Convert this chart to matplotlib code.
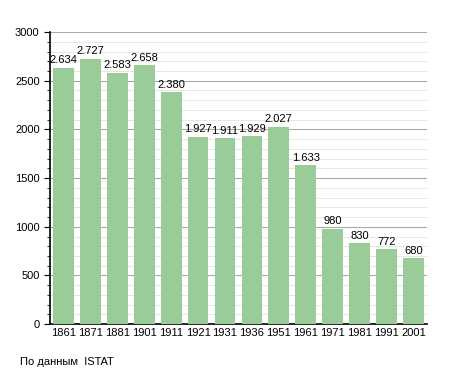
import matplotlib.pyplot as plt
import numpy as np

# === 人口資料 (ISTAT) ===
years = ["1861", "1871", "1881", "1901", "1911", "1921", "1931",
         "1936", "1951", "1961", "1971", "1981", "1991", "2001"]
population = [2634, 2727, 2583, 2658, 2380, 1927, 1911,
              1929, 2027, 1633, 980, 830, 772, 680]
value_labels = ["2.634", "2.727", "2.583", "2.658", "2.380", "1.927", "1.911",
                "1.929", "2.027", "1.633", "980", "830", "772", "680"]

plt.rcParams['font.family'] = ['Liberation Sans', 'DejaVu Sans']

fig = plt.figure(figsize=(4.55, 3.73), dpi=100)
ax = fig.add_axes([0.110, 0.131, 0.828, 0.783])

x = np.arange(len(years))
ax.bar(x, population, width=0.77, color="#99CC99", zorder=3)

for xi, v, lab in zip(x, population, value_labels):
    ax.text(xi, v + 25, lab, ha="center", va="bottom", fontsize=8, zorder=4)

ax.set_xlim(-0.5, len(years) - 0.5)
ax.set_ylim(0, 3000)
ax.set_xticks(x)
ax.set_xticklabels(years, fontsize=8)
ax.set_yticks(np.arange(0, 3001, 500))
ax.set_yticks(np.arange(0, 3001, 100), minor=True)
ax.tick_params(axis="y", labelsize=8, length=4)
ax.tick_params(axis="y", which="minor", length=2)
ax.tick_params(axis="x", length=0, pad=3)

ax.grid(axis="y", which="major", color="#aaaaaa", linewidth=0.8, zorder=0)
ax.grid(axis="y", which="minor", color="#e2e2e2", linewidth=0.6, zorder=0)

for s in ["top", "right"]:
    ax.spines[s].set_visible(False)
ax.spines["left"].set_linewidth(1.2)
ax.spines["bottom"].set_linewidth(1.2)

fig.text(20 / 455, 1 - 362 / 373, "По данным  ISTAT", fontsize=8, va="center")

plt.savefig("out.png", dpi=100)
